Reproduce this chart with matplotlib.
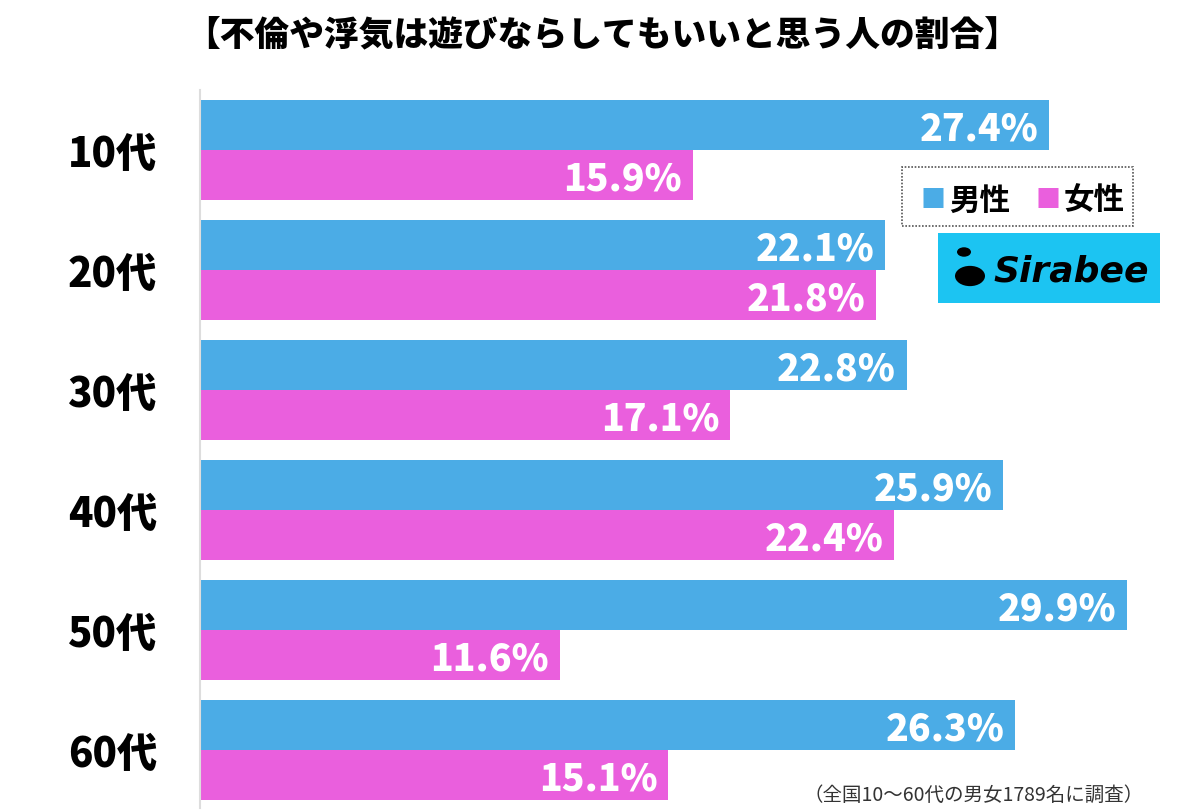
import matplotlib
matplotlib.use("Agg")
import matplotlib.pyplot as plt
from matplotlib.patches import Rectangle, Circle
import numpy as np

plt.rcParams['font.family'] = ['Noto Sans CJK JP', 'DejaVu Sans']

# data
ages = ["10代", "20代", "30代", "40代", "50代", "60代"]
male = [27.4, 22.1, 22.8, 25.9, 29.9, 26.3]
female = [15.9, 21.8, 17.1, 22.4, 11.6, 15.1]
title = "【不倫や浮気は遊びならしてもいいと思う人の割合】"
note = "（全国10〜60代の男女1789名に調査）"

blue = "#4BACE6"
pink = "#EA5FDD"

fig = plt.figure(figsize=(12, 8.11), dpi=100)
ax = fig.add_axes([200 / 1200, 1 - 808 / 811, 970 / 1200, 718 / 811])

y = np.arange(len(ages))
h = 50 / 120
ax.barh(y - h / 2, male, height=h, color=blue, edgecolor="none")
ax.barh(y + h / 2, female, height=h, color=pink, edgecolor="none")

ax.set_xlim(0, 970 / 31)
ax.set_ylim(5.483, -0.5)

for i in range(len(ages)):
    ax.text(male[i] - 0.35, y[i] - h / 2, f"{male[i]:.1f}%", color="white",
            fontsize=27, fontweight="heavy", ha="right", va="center_baseline")
    ax.text(female[i] - 0.35, y[i] + h / 2, f"{female[i]:.1f}%", color="white",
            fontsize=27, fontweight="heavy", ha="right", va="center_baseline")

ax.set_yticks(y)
ax.set_yticklabels(ages, fontsize=29, fontweight="heavy")
ax.tick_params(axis="y", length=0, pad=31)
ax.set_xticks([])
for s in ["top", "right", "bottom"]:
    ax.spines[s].set_visible(False)
ax.spines["left"].set_color("#dddddd")
ax.spines["left"].set_linewidth(1.5)

fig.text(602 / 1200, 1 - 36 / 811, title, ha="center", va="center",
         fontsize=25, fontweight="heavy")
fig.text(974 / 1200, 1 - 795 / 811, note, ha="center", va="center",
         fontsize=14, color="#333333")

# legend box
fig.patches.append(Rectangle((902 / 1200, 1 - 226 / 811), 231 / 1200, 59 / 811,
                             transform=fig.transFigure, facecolor="white",
                             edgecolor="#555555", linestyle=(0, (1, 1)), linewidth=1.2))
fig.text(920 / 1200, 1 - 197 / 811, "■", color=blue, fontsize=18, va="center_baseline")
fig.text(949 / 1200, 1 - 197 / 811, "男性", fontsize=22, fontweight="bold", va="center_baseline")
fig.text(1036 / 1200, 1 - 197 / 811, "■", color=pink, fontsize=18, va="center_baseline")
fig.text(1064 / 1200, 1 - 197 / 811, "女性", fontsize=22, fontweight="bold", va="center_baseline")

# Sirabee logo
fig.patches.append(Rectangle((938 / 1200, 1 - 303 / 811), 222 / 1200, 70 / 811,
                             transform=fig.transFigure, facecolor="#1CC4F2", edgecolor="none"))
fig.patches.append(Circle((970 / 1200, 1 - 276 / 811), 15 / 1200, transform=fig.transFigure,
                          facecolor="black", edgecolor="none"))
fig.patches.append(Circle((964 / 1200, 1 - 252 / 811), 7 / 1200, transform=fig.transFigure,
                          facecolor="black", edgecolor="none"))
fig.text(993 / 1200, 1 - 272 / 811, "Sirabee", fontsize=26, fontweight="bold",
         fontstyle="italic", family="DejaVu Sans", va="center")

fig.savefig("out.png", dpi=100)
